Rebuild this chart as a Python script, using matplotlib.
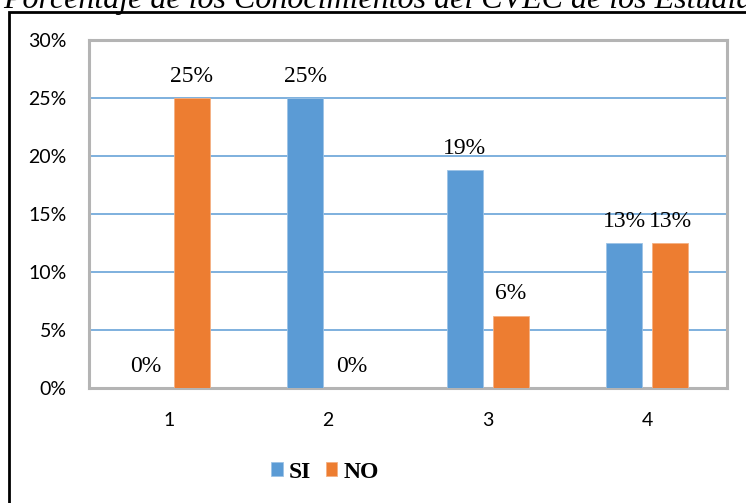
import numpy as np
import matplotlib.pyplot as plt
from matplotlib.patches import Rectangle

categories = ['1', '2', '3', '4']
si_values = [0.0, 25.0, 18.75, 12.5]
no_values = [25.0, 0.0, 6.25, 12.5]
si_labels = ['0%', '25%', '19%', '13%']
no_labels = ['25%', '0%', '6%', '13%']
y_ticks = [0, 5, 10, 15, 20, 25, 30]
title = 'Porcentaje de los Conocimientos del CVEC de los Estudiantes'

blue = '#5B9BD5'
orange = '#ED7D31'

fig = plt.figure(figsize=(7.46, 5.03), dpi=100)
ax = fig.add_axes([0.1193, 0.2286, 0.8552, 0.6919])

x = np.arange(1, len(categories) + 1)
w = 0.225
off = 0.145
b1 = ax.bar(x - off, si_values, w, color=blue, edgecolor='#9DC3E6', linewidth=0.6, label='SI', zorder=3)
b2 = ax.bar(x + off, no_values, w, color=orange, edgecolor='#F4B183', linewidth=0.6, label='NO', zorder=3)

for bars, labels in [(b1, si_labels), (b2, no_labels)]:
    for rect, lab in zip(bars, labels):
        ax.annotate(lab, (rect.get_x() + rect.get_width() / 2, rect.get_height()),
                    xytext=(0, 8), textcoords='offset points', ha='center', va='bottom',
                    fontsize=17, family='Liberation Serif', color='black')

ax.set_xlim(0.5, 4.5)
ax.set_ylim(0, 30)
ax.set_yticks(y_ticks)
ax.set_yticklabels([f'{t}%' for t in y_ticks], fontsize=14, family='Lato')
ax.set_xticks(x)
ax.set_xticklabels(categories, fontsize=14, family='Lato')
ax.tick_params(axis='y', length=0, pad=16)
ax.tick_params(axis='x', length=0, pad=17)

ax.yaxis.grid(True, color=blue, linewidth=1.1, zorder=0)
ax.set_axisbelow(True)
for s in ax.spines.values():
    s.set_color('#B4B4B4')
    s.set_linewidth(2.2)

leg = fig.legend(handles=[b1, b2], labels=['SI', 'NO'], loc='center', bbox_to_anchor=(325 / 746, 1 - 472 / 503),
                 ncol=2, frameon=False, handlelength=0.5, handleheight=0.5, handletextpad=0.25,
                 columnspacing=0.6, prop={'family': 'Liberation Serif', 'weight': 'bold', 'size': 17})

fig.text(0.004, 1 - 8 / 503, title, fontsize=23, family='Liberation Serif', style='italic',
         ha='left', va='baseline')

fig.patches.append(Rectangle((9 / 746, -0.1), 1.2, 1 - 12 / 503 + 0.1, transform=fig.transFigure,
                             fill=False, edgecolor='black', linewidth=2, clip_on=False))

fig.savefig('out.png', dpi=100)
